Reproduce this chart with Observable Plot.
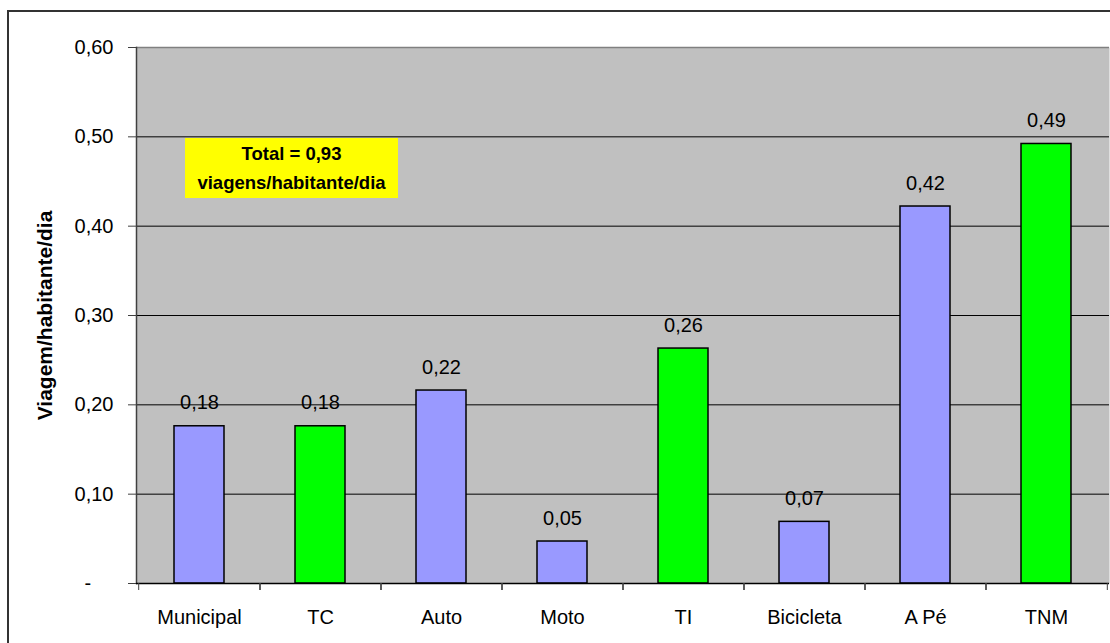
<!DOCTYPE html>
<html>
<head>
<meta charset="utf-8">
<script src="https://cdn.jsdelivr.net/npm/d3@7"></script>
<script src="https://cdn.jsdelivr.net/npm/@observablehq/plot@0.6"></script>
<style>
  html, body { margin: 0; padding: 0; background: #fff; overflow: hidden; }
  #wrap { position: relative; width: 1110px; height: 643px; overflow: hidden; font-family: "Liberation Sans", Arial, sans-serif; }
  #border { position: absolute; left: 7px; top: 10px; width: 1200px; height: 700px; border: 2px solid #333; box-sizing: border-box; pointer-events: none; }
  #chart { position: absolute; left: 0; top: 0; }
  #note { position: absolute; left: 185px; top: 138px; width: 213px; height: 60px; background: #ffff00;
          display: flex; flex-direction: column; justify-content: center; align-items: center;
          font-weight: bold; font-size: 18.5px; line-height: 29px; color: #000; }
</style>
</head>
<body>
<div id="wrap">
  <div id="border"></div>
  <div id="chart"></div>
  <div id="note"><div>Total = 0,93</div><div>viagens/habitante/dia</div></div>
</div>
<script>
const categories = ["Municipal", "TC", "Auto", "Moto", "TI", "Bicicleta", "A Pé", "TNM"];
const values = [0.176, 0.176, 0.216, 0.047, 0.263, 0.069, 0.422, 0.492];
const groups = ["modo", "total", "modo", "modo", "total", "modo", "modo", "total"];
const yTicks = [0, 0.1, 0.2, 0.3, 0.4, 0.5, 0.6];
const yTitle = "Viagem/habitante/dia";

const data = categories.map((c, i) => ({cat: c, value: values[i], group: groups[i]}));
const fmt = v => d3.format(".2f")(v).replace(".", ",");
const yFmt = v => v === 0 ? "-\u00a0\u00a0\u00a0\u00a0" : fmt(v);

const W = 1110, H = 643, mL = 136, mR = 1, mT = 47, mB = 60;
const step = (W - mL - mR) / categories.length;

const plot = Plot.plot({
  width: W, height: H,
  marginLeft: mL, marginRight: mR, marginTop: mT, marginBottom: mB,
  style: {fontFamily: "'Liberation Sans', Arial, sans-serif", color: "#000", background: "transparent"},
  x: {domain: categories, paddingInner: 0.59, paddingOuter: 0.295},
  y: {domain: [0, 0.6]},
  color: {domain: ["modo", "total"], range: ["#9999ff", "#00ff00"]},
  marks: [
    Plot.frame({fill: "#c0c0c0", stroke: null}),
    Plot.gridY(yTicks.filter(d => d > 0 && d < 0.6), {stroke: "#000", strokeOpacity: 1, strokeWidth: 1}),
    Plot.ruleY([0.6], {stroke: "#808080", strokeWidth: 1.5}),
    Plot.frame({anchor: "left", stroke: "#404040", strokeWidth: 1.5}),
    Plot.barY(data, {x: "cat", y: "value", fill: "group", stroke: "#000", strokeWidth: 1.5}),
    Plot.ruleY([0], {stroke: "#000", strokeWidth: 1.5}),
    Plot.text(data, {x: "cat", y: "value", text: d => fmt(d.value), dy: -17, lineAnchor: "bottom", fontSize: 20, fill: "#000"}),
    Plot.axisY({ticks: yTicks, tickFormat: yFmt, tickSize: 8, tickPadding: 15, fontSize: 20, label: null, stroke: "#404040"}),
    Plot.axisX({tickSize: 0, tickPadding: 26, fontSize: 20, label: null}),
    Plot.axisX({tickSize: 7, text: null, dx: -step / 2, label: null, stroke: "#404040"}),
    Plot.axisX({tickSize: 7, text: null, dx: step / 2, label: null, stroke: "#404040"}),
    Plot.text([yTitle], {frameAnchor: "left", rotate: -90, dx: -91, textAnchor: "middle", lineAnchor: "middle", text: d => d, fontWeight: "bold", fontSize: 21, fill: "#000"})
  ]
});
document.getElementById("chart").appendChild(plot);
</script>
</body>
</html>
